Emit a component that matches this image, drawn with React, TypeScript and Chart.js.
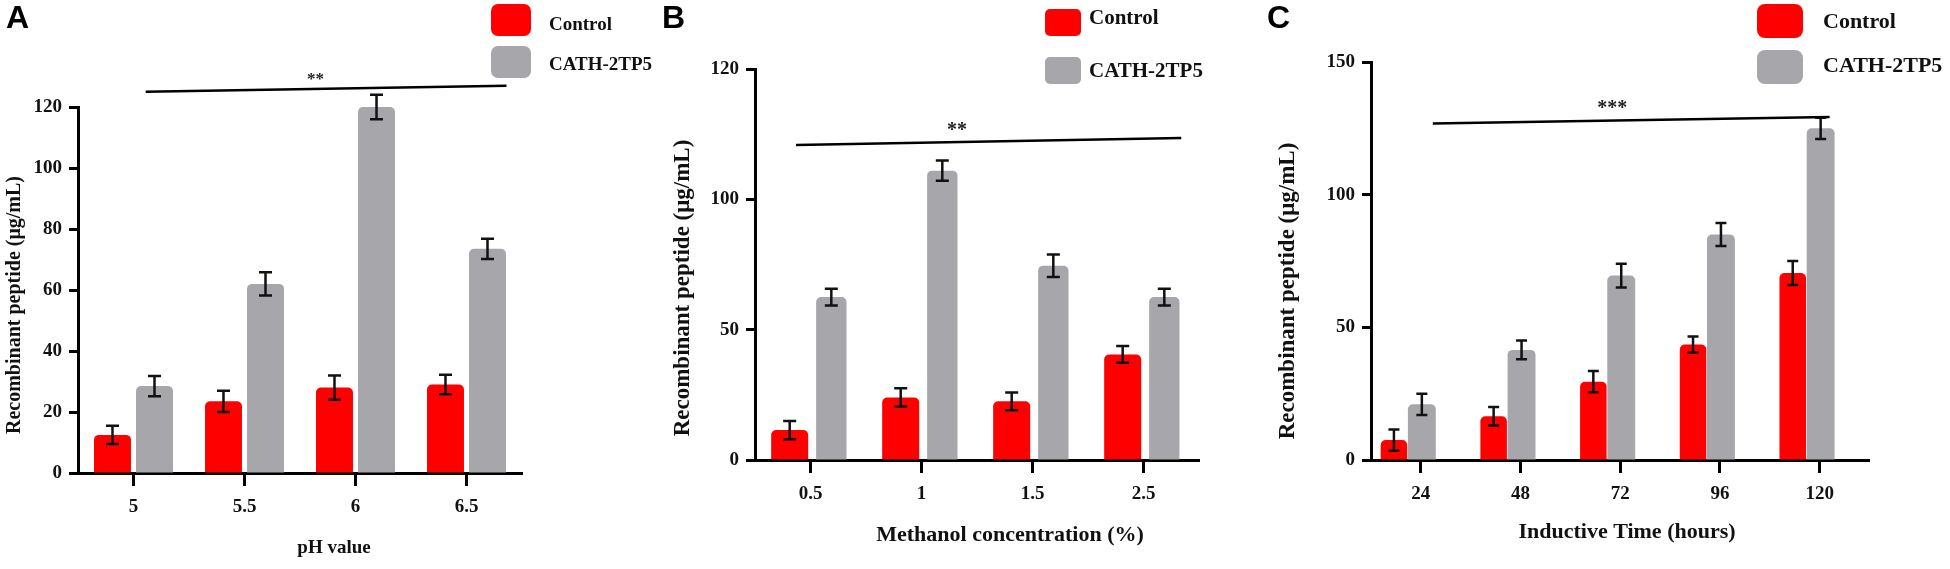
import { useEffect, useRef } from 'react';
import { Chart, registerables } from 'chart.js';

Chart.register(...registerables);

// A: pH value
const phLabels = ['5', '5.5', '6', '6.5'];
const phControl = [12.5, 23.5, 28, 29];
const phControlErr = [3, 3.5, 4, 3.2];
const phCath = [28.5, 62, 120, 73.5];
const phCathErr = [3.3, 3.8, 4, 3.3];
const phYTicks = ['0', '20', '40', '60', '80', '100', '120'];

// B: methanol concentration
const meohLabels = ['0.5', '1', '1.5', '2.5'];
const meohControl = [11.5, 24, 22.5, 40.5];
const meohControlErr = [3.5, 3.5, 3.4, 3.2];
const meohCath = [62.5, 111, 74.5, 62.5];
const meohCathErr = [3.2, 3.9, 4.3, 3.2];
const meohYTicks = ['0', '50', '100', '120'];

// C: inductive time
const timeLabels = ['24', '48', '72', '96', '120'];
const timeControl = [7.5, 16.5, 29.5, 43.5, 70.5];
const timeControlErr = [4, 3.5, 4, 3, 4.5];
const timeCath = [21, 41.5, 69.5, 85, 125];
const timeCathErr = [4, 3.5, 4.5, 4.3, 4];
const timeYTicks = ['0', '50', '100', '150'];

const seriesNames = ['Control', 'CATH-2TP5'];
const seriesColors = ['#ff0000', '#a7a7ab'];

const H = 569;
const Y_AXIS_W = 60;
const X_AXIS_H = 60;
const SERIF = "'Liberation Serif', 'Times New Roman', serif";

interface Panel {
  letter: string;
  labels: string[];
  values: number[][];
  errors: number[][];
  yMax: number;
  yStep: number;
  yTicks: string[];
  yTitle: string;
  xTitle: string;
  sig: string;
  sigLine: [number, number, number, number]; // x0, y0, x1, y1 (index / value units)
  sigText: [number, number];
  left: number;
  width: number;
  plot: { left: number; right: number; top: number; bottom: number };
  catPct: number;
  barPct: number[];
  shift: number;
  cap: number;
  legend: { x: number; w: number; ys: number[]; h: number; r: number; textX: number; textYs: number[]; size: number };
  yTitlePos: { x: number; y: number; size: number };
  xTitlePos: { x: number; y: number; size: number };
  starSize: number;
  letterX: number;
}

const panels: Panel[] = [
  {
    letter: 'A',
    labels: phLabels,
    values: [phControl, phCath],
    errors: [phControlErr, phCathErr],
    yMax: 120,
    yStep: 20,
    yTicks: phYTicks,
    yTitle: 'Recombinant peptide (μg/mL)',
    xTitle: 'pH value',
    sig: '**',
    sigLine: [0.11, 125, 3.36, 127],
    sigText: [1.64, 130.3],
    left: 0,
    width: 655,
    plot: { left: 78, right: 522, top: 107, bottom: 473 },
    catPct: 0.757,
    barPct: [0.88, 0.88],
    shift: 0,
    cap: 13,
    legend: { x: 491, w: 40, ys: [4, 46], h: 32, r: 7, textX: 549, textYs: [25, 65], size: 19 },
    yTitlePos: { x: 15, y: 305, size: 20 },
    xTitlePos: { x: 334, y: 548, size: 19 },
    starSize: 17,
    letterX: 6,
  },
  {
    letter: 'B',
    labels: meohLabels,
    values: [meohControl, meohCath],
    errors: [meohControlErr, meohCathErr],
    yMax: 150,
    yStep: 50,
    yTicks: meohYTicks,
    yTitle: 'Recombinant peptide (μg/mL)',
    xTitle: 'Methanol concentration (%)',
    sig: '**',
    sigLine: [-0.13, 120.8, 3.34, 123.5],
    sigText: [1.32, 128],
    left: 655,
    width: 607,
    plot: { left: 755, right: 1199, top: 69, bottom: 460 },
    catPct: 0.75,
    barPct: [0.89, 0.73],
    shift: 0,
    cap: 13,
    legend: { x: 1045, w: 36, ys: [9, 57], h: 27, r: 5, textX: 1089, textYs: [19, 72], size: 21 },
    yTitlePos: { x: 683, y: 288, size: 23 },
    xTitlePos: { x: 1010, y: 535, size: 22 },
    starSize: 20,
    letterX: 662,
  },
  {
    letter: 'C',
    labels: timeLabels,
    values: [timeControl, timeCath],
    errors: [timeControlErr, timeCathErr],
    yMax: 150,
    yStep: 50,
    yTicks: timeYTicks,
    yTitle: 'Recombinant peptide (μg/mL)',
    xTitle: 'Inductive Time (hours)',
    sig: '***',
    sigLine: [0.12, 126.8, 4.1, 129.3],
    sigText: [1.92, 134.2],
    left: 1262,
    width: 688,
    plot: { left: 1371, right: 1869.5, top: 62, bottom: 460 },
    catPct: 0.56,
    barPct: [0.95, 1.0],
    shift: 0.13,
    cap: 11,
    legend: { x: 1757, w: 46, ys: [4, 50], h: 34, r: 8, textX: 1823, textYs: [22.6, 66], size: 22 },
    yTitlePos: { x: 1288, y: 291, size: 23 },
    xTitlePos: { x: 1627, y: 532, size: 22 },
    starSize: 20,
    letterX: 1267,
  },
];

function extrasPlugin(p: Panel) {
  return {
    id: 'extras',
    afterDatasetsDraw(chart: Chart) {
      const ctx = chart.ctx;
      const y = chart.scales.y;
      ctx.save();
      ctx.strokeStyle = '#111';
      ctx.lineWidth = 2.5;
      p.values.forEach((series, d) => {
        chart.getDatasetMeta(d).data.forEach((bar: any, i) => {
          const x = bar.x;
          const top = y.getPixelForValue(series[i] + p.errors[d][i]);
          const bot = y.getPixelForValue(series[i] - p.errors[d][i]);
          ctx.beginPath();
          ctx.moveTo(x, top);
          ctx.lineTo(x, bot);
          ctx.moveTo(x - p.cap / 2, top);
          ctx.lineTo(x + p.cap / 2, top);
          ctx.moveTo(x - p.cap / 2, bot);
          ctx.lineTo(x + p.cap / 2, bot);
          ctx.stroke();
        });
      });
      ctx.restore();
    },
    afterDraw(chart: Chart) {
      const ctx = chart.ctx;
      const xs = chart.scales.x;
      const ys = chart.scales.y;
      const off = p.left;
      ctx.save();

      // significance bar
      const [x0, y0, x1, y1] = p.sigLine;
      ctx.strokeStyle = '#000';
      ctx.lineWidth = 2.5;
      ctx.beginPath();
      ctx.moveTo(xs.getPixelForValue(x0), ys.getPixelForValue(y0));
      ctx.lineTo(xs.getPixelForValue(x1), ys.getPixelForValue(y1));
      ctx.stroke();
      ctx.fillStyle = '#222';
      ctx.font = `bold ${p.starSize}px ${SERIF}`;
      ctx.textAlign = 'center';
      ctx.textBaseline = 'alphabetic';
      ctx.fillText(p.sig, xs.getPixelForValue(p.sigText[0]), ys.getPixelForValue(p.sigText[1]) + p.starSize * 0.49);

      // legend
      const lg = p.legend;
      chart.data.datasets.forEach((ds, d) => {
        ctx.fillStyle = ds.backgroundColor as string;
        ctx.beginPath();
        ctx.roundRect(lg.x - off, lg.ys[d], lg.w, lg.h, lg.r);
        ctx.fill();
        ctx.fillStyle = '#111';
        ctx.font = `bold ${lg.size}px ${SERIF}`;
        ctx.textAlign = 'left';
        ctx.textBaseline = 'middle';
        ctx.fillText(ds.label as string, lg.textX - off, lg.textYs[d]);
      });

      // axis titles
      ctx.fillStyle = '#111';
      ctx.textAlign = 'center';
      ctx.textBaseline = 'middle';
      ctx.font = `bold ${p.xTitlePos.size}px ${SERIF}`;
      ctx.fillText(p.xTitle, p.xTitlePos.x - off, p.xTitlePos.y);
      ctx.save();
      ctx.translate(p.yTitlePos.x - off, p.yTitlePos.y);
      ctx.rotate(-Math.PI / 2);
      ctx.font = `bold ${p.yTitlePos.size}px ${SERIF}`;
      ctx.fillText(p.yTitle, 0, 0);
      ctx.restore();

      // panel letter
      ctx.fillStyle = '#000';
      ctx.font = "bold 32px 'Liberation Sans', Arial, sans-serif";
      ctx.textAlign = 'left';
      ctx.textBaseline = 'alphabetic';
      ctx.fillText(p.letter, p.letterX - off, 28);
      ctx.restore();
    },
  };
}

function PanelChart({ panel }: { panel: Panel }) {
  const canvasRef = useRef<HTMLCanvasElement>(null);

  useEffect(() => {
    if (!canvasRef.current) return;
    const n = panel.labels.length;
    const tickFont = { family: SERIF, size: 19, weight: 'bold' as const };

    const chart = new Chart(canvasRef.current, {
      type: 'bar',
      data: {
        labels: panel.labels,
        datasets: panel.values.map((series, d) => ({
          label: seriesNames[d],
          data: series.map((v, i) => ({ x: i, y: v })),
          backgroundColor: seriesColors[d],
          borderRadius: 5,
          borderSkipped: 'start' as const,
          categoryPercentage: panel.catPct,
          barPercentage: panel.barPct[d],
          xAxisID: 'xb',
          yAxisID: 'y',
        })),
      },
      options: {
        responsive: false,
        animation: false,
        layout: {
          padding: {
            left: panel.plot.left - panel.left - Y_AXIS_W,
            right: panel.left + panel.width - panel.plot.right,
            top: panel.plot.top,
            bottom: H - panel.plot.bottom - X_AXIS_H,
          },
        },
        plugins: {
          legend: { display: false },
          tooltip: { enabled: false },
        },
        scales: {
          x: {
            type: 'category',
            position: 'bottom',
            offset: true,
            border: { display: true, color: '#000', width: 3 },
            grid: { drawOnChartArea: false, offset: false, tickLength: 13, tickWidth: 3, tickColor: '#000' },
            ticks: { color: '#111', font: tickFont, padding: 10, maxRotation: 0, autoSkip: false },
            afterFit: (s) => {
              s.height = X_AXIS_H;
            },
          },
          // hidden index axis for the bars, so a pair can sit off the label centre
          xb: {
            type: 'linear',
            display: false,
            offset: false,
            min: -0.5 + panel.shift,
            max: n - 0.5 + panel.shift,
            afterBuildTicks: (s) => {
              s.ticks = panel.labels.map((_, i) => ({ value: i }));
            },
          },
          y: {
            type: 'linear',
            min: 0,
            max: panel.yMax,
            border: { display: true, color: '#000', width: 3 },
            grid: { drawOnChartArea: false, tickLength: 9, tickWidth: 3, tickColor: '#000' },
            ticks: {
              stepSize: panel.yStep,
              color: '#111',
              font: tickFont,
              padding: 7,
              callback: (_v, i) => panel.yTicks[i],
            },
            afterFit: (s) => {
              s.width = Y_AXIS_W;
            },
          },
        },
      },
      plugins: [extrasPlugin(panel)],
    });

    return () => chart.destroy();
  }, [panel]);

  return (
    <canvas
      ref={canvasRef}
      width={panel.width}
      height={H}
      style={{ position: 'absolute', left: panel.left, top: 0, width: panel.width, height: H }}
    />
  );
}

export default function App() {
  return (
    <div style={{ position: 'absolute', left: 0, top: 0, width: 1950, height: H, background: '#fff' }}>
      {panels.map((p) => (
        <PanelChart key={p.letter} panel={p} />
      ))}
    </div>
  );
}
